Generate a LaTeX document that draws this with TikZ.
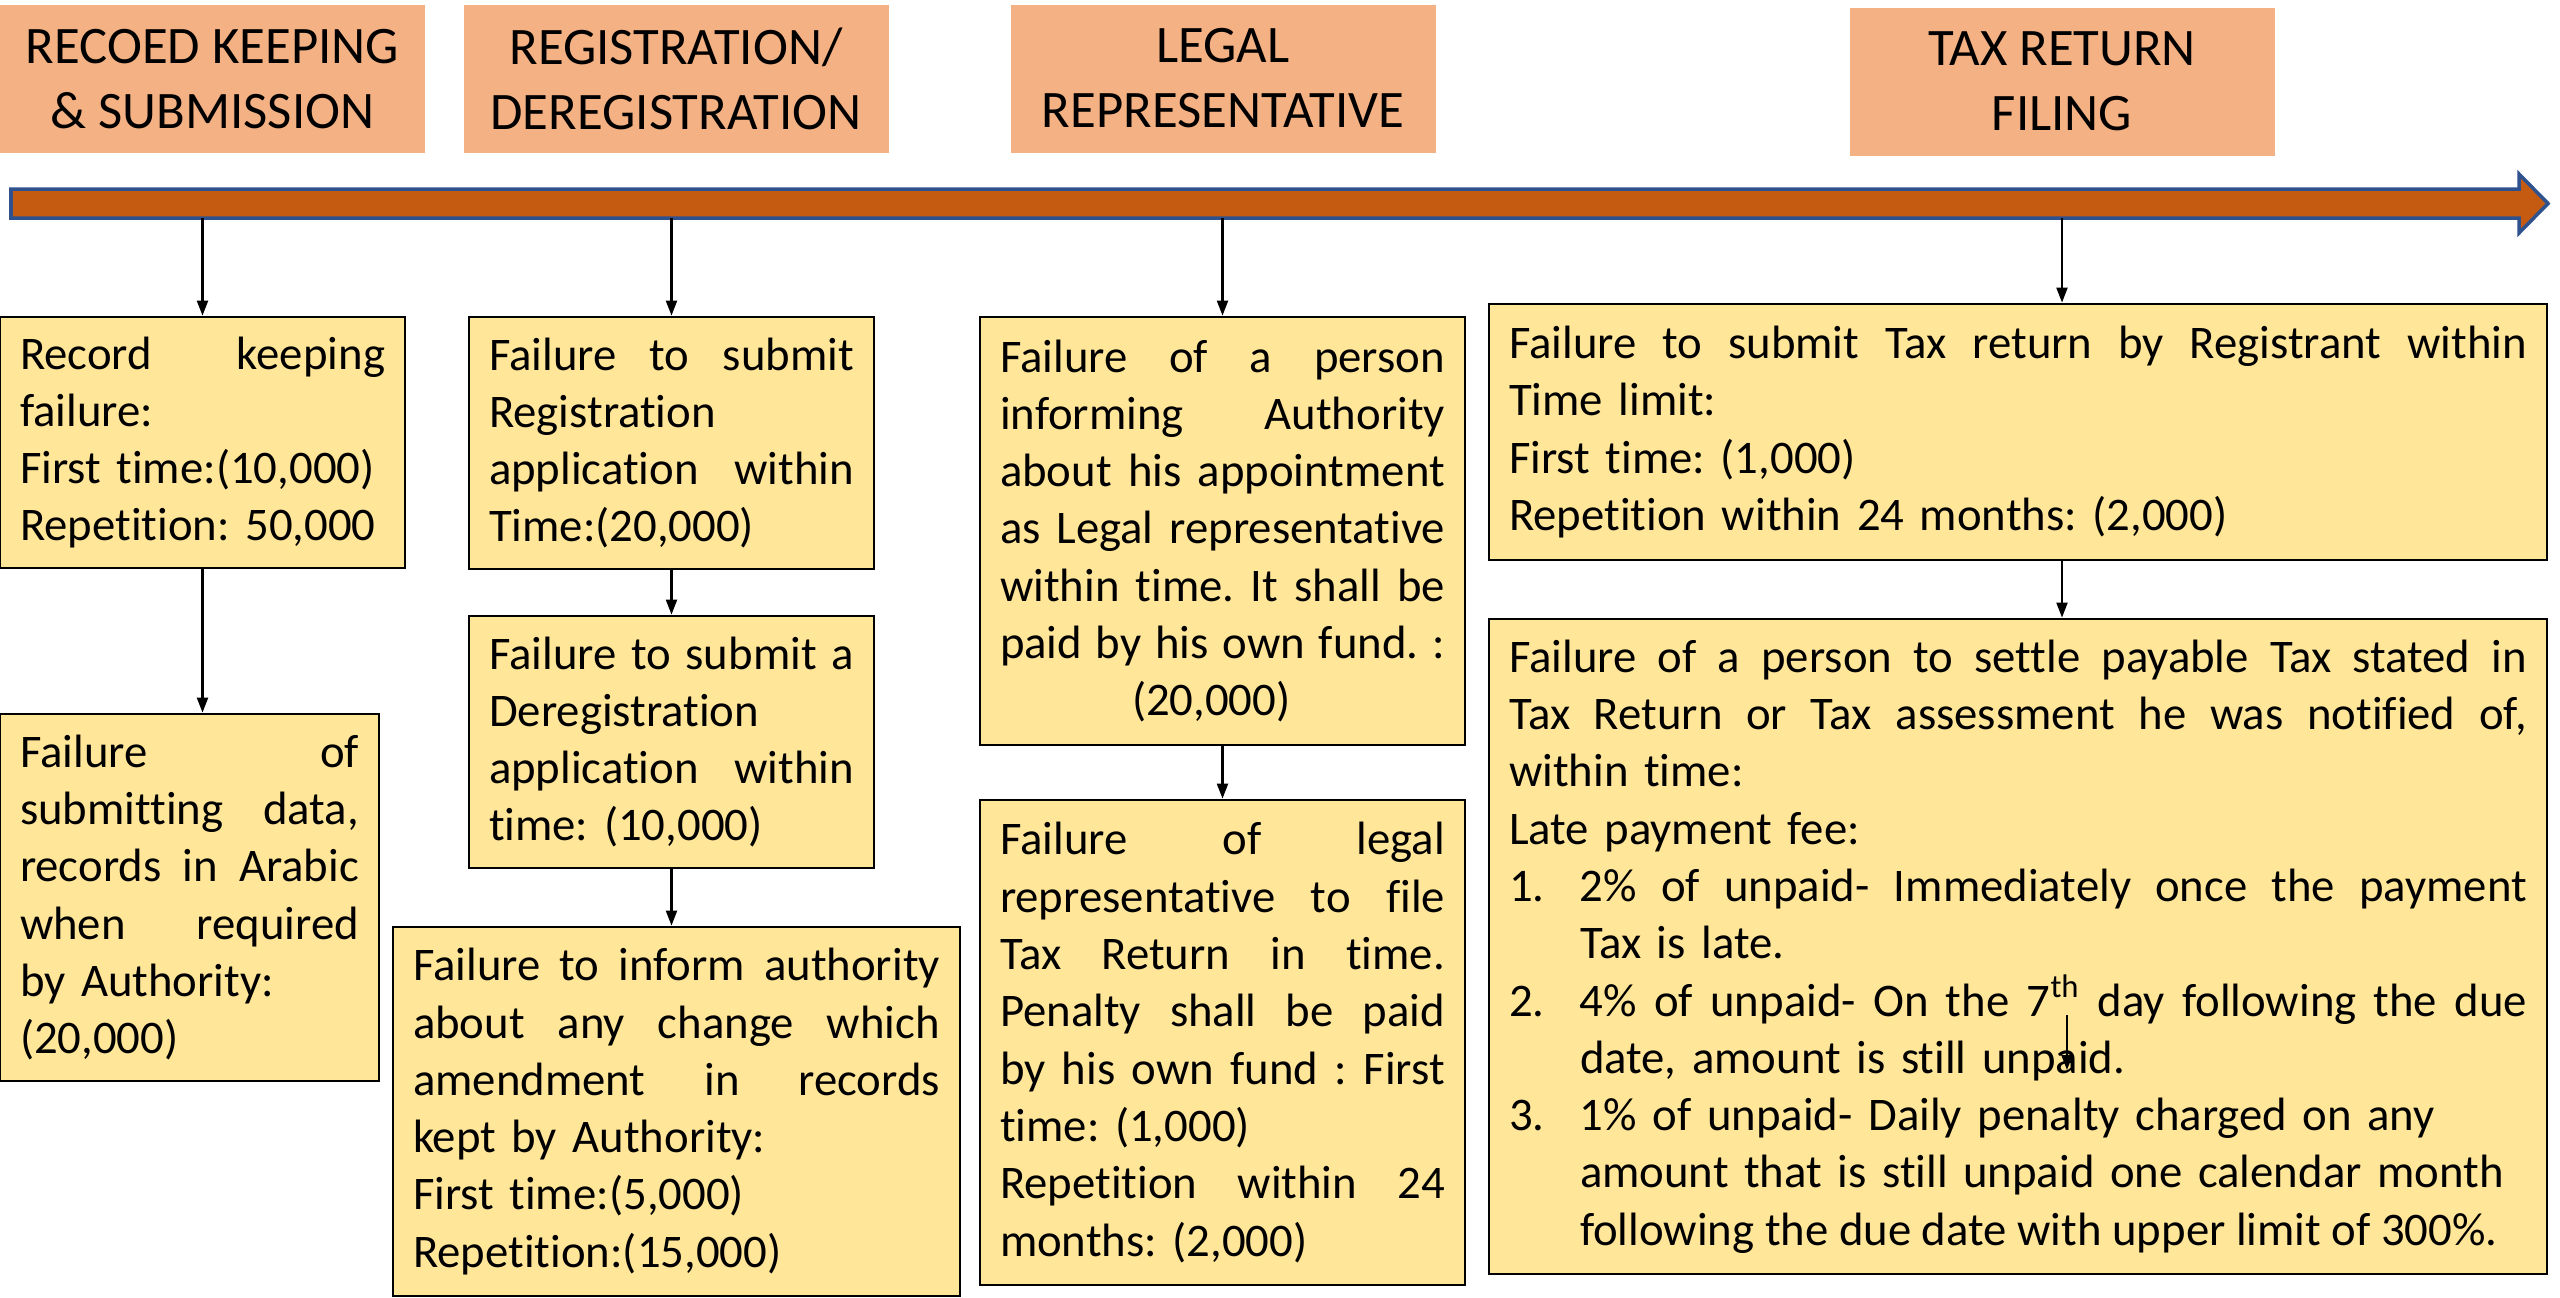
\documentclass[tikz,border=0pt]{standalone}
\usepackage{fontspec}
\setmainfont{Carlito}[Ligatures=NoCommon]
\usepackage{xcolor}
\usetikzlibrary{calc,arrows.meta}
\frenchspacing

\definecolor{headfill}{HTML}{F4B183}
\definecolor{boxfill}{HTML}{FFE699}
\definecolor{barfill}{HTML}{C55A11}
\definecolor{barline}{HTML}{2F528F}

% justified line, numbered item and indented line
\newcommand{\stretchy}{\spaceskip=\fontdimen2\font plus 1fil\relax}
\newcommand{\squeezy}{\spaceskip=\fontdimen2\font\relax}
\newcommand{\jl}[1]{\makebox[\hsize][s]{\stretchy #1}}
\newcommand{\itm}[2]{\makebox[7.1mm][l]{#1}#2}
\newcommand{\itmj}[2]{\makebox[7.1mm][l]{#1}\makebox[\dimexpr\hsize-7.1mm\relax][s]{\stretchy #2}}
\newcommand{\ind}[1]{\hspace*{7.1mm}\mbox{#1}}

\begin{document}
\begin{tikzpicture}[x=0.1mm,y=-0.1mm]

\tikzstyle{topic}=[fill=headfill,minimum width=42.5mm,minimum height=14.8mm,
inner sep=0pt,align=center,font=\fontsize{15}{18.5}\selectfont]

\tikzstyle{penalty}=[draw,line width=0.8pt,fill=boxfill,align=left,
inner xsep=2mm,inner ysep=0pt,font=\fontsize{13.3}{16.3}\selectfont]

\tikzstyle{conn}=[-{Triangle[length=1.5mm,width=1.1mm]},line width=0.6pt]

\useasboundingbox (0,0) rectangle (2560,1297);

% This draws the headings.
\node[topic] (H1) at (212.5,79) {RECOED KEEPING\\ \& SUBMISSION};
\node[topic] (H2) at (676,79) {REGISTRATION/\\ DEREGISTRATION};
\node[topic] (H3) at (1223,78.5) {LEGAL\\ REPRESENTATIVE};
\node[topic] (H4) at (2062,81.5) {TAX RETURN\\ FILING};

% This draws the time line.
\draw[fill=barfill,draw=barline,line width=1pt,line join=miter]
(11,189) -- (2519,189) -- (2519,174) -- (2548,203.5) -- (2519,233) -- (2519,218) -- (11,218) -- cycle;
\coordinate (T1) at (202.5,218);
\coordinate (T2) at (671.5,218);
\coordinate (T3) at (1222.5,218);
\coordinate (T4) at (2062,218);

% This draws the record keeping boxes.
\node[penalty,text width=36.5mm,minimum height=25.1mm] (RK1) at (202.5,442.5)
{\jl{Record keeping}\\ failure:\\ First time:(10,000)\\ Repetition: 50,000};
\node[penalty,text width=33.9mm,minimum height=36.7mm] (RK2) at (189.5,897.5)
{\jl{Failure of}\\ \jl{submitting data,}\\ \jl{records in Arabic}\\ \jl{when required}\\ by Authority:\\ (20,000)};

% This draws the registration boxes.
\node[penalty,text width=36.5mm,minimum height=25.2mm] (RG1) at (671.5,443)
{\jl{Failure to submit}\\ Registration\\ \jl{application within}\\ Time:(20,000)};
\node[penalty,text width=36.5mm,minimum height=25.2mm] (RG2) at (671.5,742)
{\jl{Failure to submit a}\\ Deregistration\\ \jl{application within}\\ time: (10,000)};
\node[penalty,text width=52.7mm,minimum height=36.9mm] (RG3) at (676.5,1111.5)
{\jl{Failure to inform authority}\\ \jl{about any change which}\\ \jl{amendment in records}\\ kept by Authority:\\ First time:(5,000)\\ Repetition:(15,000)};

% This draws the legal representative boxes.
\node[penalty,text width=44.5mm,minimum height=42.8mm] (LR1) at (1222.5,531)
{\jl{Failure of a person}\\ \jl{informing Authority}\\ \jl{about his appointment}\\ \jl{as Legal representative}\\ \jl{within time. It shall be}\\ \jl{paid by his own fund. :}\\ \hspace*{13.2mm}(20,000)};
\node[penalty,text width=44.5mm,minimum height=48.5mm] (LR2) at (1222.5,1042.5)
{\jl{Failure of legal}\\ \jl{representative to file}\\ \jl{Tax Return in time.}\\ \jl{Penalty shall be paid}\\ \jl{by his own fund : First}\\ time: (1,000)\\ \jl{Repetition within 24}\\ months: (2,000)};

% This draws the tax return boxes.
\node[penalty,text width=101.8mm,minimum height=25.6mm] (TR1) at (2018,432)
{\jl{Failure to submit Tax return by Registrant within}\\ Time limit:\\ First time: (1,000)\\ Repetition within 24 months: (2,000)};
\node[penalty,text width=101.8mm,minimum height=65.5mm] (TR2) at (2018,946.5)
{\jl{Failure of a person to settle payable Tax stated in}\\
\jl{Tax Return or Tax assessment he was notified of,}\\
within time:\\
Late payment fee:\\
\itmj{1.}{2\% of unpaid- Immediately once the payment}\\
\ind{Tax is late.}\\
\itmj{2.}{4\% of unpaid- On the 7\textsuperscript{th} day following the due}\\
\ind{date, amount is still unpaid.}\\
\itm{3.}{1\% of unpaid- Daily penalty charged on any}\\
\ind{amount that is still unpaid one calendar month}\\
\ind{\squeezy following the due date with upper limit of 300\%.}};

% This draws the arrows.
\draw[conn] (T1) -- (RK1.north);
\draw[conn] (RK1.south) -- (RK1.south |- RK2.north);
\draw[conn] (T2) -- (RG1.north);
\draw[conn] (RG1.south) -- (RG2.north);
\draw[conn] (RG2.south) -- (RG2.south |- RG3.north);
\draw[conn] (T3) -- (LR1.north);
\draw[conn] (LR1.south) -- (LR2.north);
\draw[conn] (T4) -- (T4 |- TR1.north);
\draw[conn] (T4 |- TR1.south) -- (T4 |- TR2.north);
\coordinate (S) at (2067,1015);
\draw[conn] (S) -- ($(S)+(0,55)$);
\end{tikzpicture}
\end{document}
